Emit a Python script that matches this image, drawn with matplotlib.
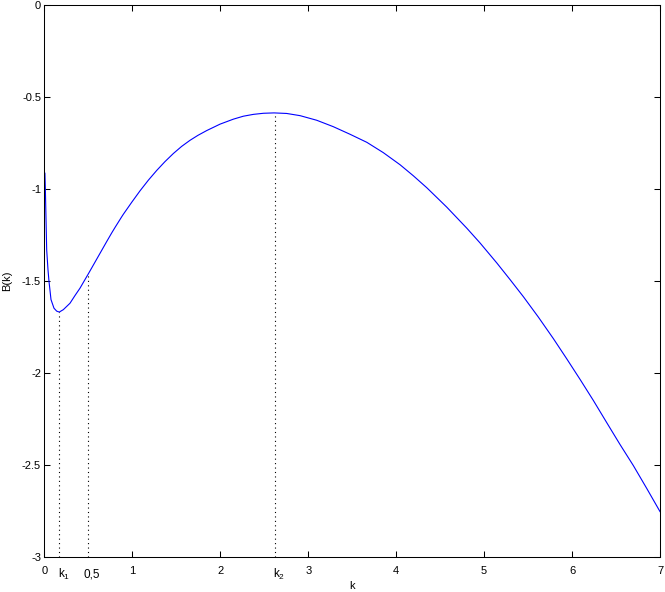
import matplotlib
matplotlib.use("Agg")
import matplotlib.pyplot as plt
import matplotlib.transforms as mtransforms

plt.rcParams['font.family'] = ['Liberation Sans', 'DejaVu Sans']
plt.rcParams['axes.unicode_minus'] = False

# B(k)
k_vals = [0.005, 0.01, 0.025, 0.040, 0.051, 0.074, 0.108, 0.139, 0.168, 0.214,
          0.29, 0.347, 0.404, 0.45, 0.5, 0.537, 0.60, 0.65, 0.707, 0.764,
          0.802, 0.878, 0.897, 0.992, 1.086, 1.181, 1.276, 1.370, 1.465, 1.560,
          1.655, 1.745, 1.845, 1.997, 2.148, 2.261, 2.375, 2.49, 2.611, 2.754,
          2.907, 3.096, 3.285, 3.474, 3.666, 3.853, 4.044, 4.195, 4.348, 4.574,
          4.803, 4.953, 5.144, 5.294, 5.447, 5.616, 5.788, 5.939, 6.092, 6.241,
          6.395, 6.545, 6.697, 6.849, 7.0]
b_vals = [-0.913, -1.0, -1.33, -1.439, -1.50, -1.60, -1.647, -1.663, -1.668, -1.655,
          -1.62, -1.578, -1.538, -1.500, -1.459, -1.428, -1.375, -1.333, -1.285, -1.238,
          -1.208, -1.150, -1.136, -1.071, -1.009, -0.951, -0.898, -0.850, -0.806, -0.767,
          -0.734, -0.707, -0.681, -0.646, -0.619, -0.603, -0.593, -0.587, -0.585, -0.588,
          -0.600, -0.625, -0.660, -0.701, -0.745, -0.801, -0.867, -0.927, -0.992, -1.097,
          -1.212, -1.292, -1.401, -1.491, -1.585, -1.695, -1.813, -1.922, -2.035, -2.148,
          -2.270, -2.388, -2.503, -2.627, -2.753]

# marked points (dotted drop lines)
mark_k = [0.168, 0.5, 2.62]
mark_b = [-1.668, -1.459, -0.585]
mark_labels = [r'$\mathregular{k_1}$', '0,5', r'$\mathregular{k_2}$']
mark_label_x = [0.154, 0.449, 2.60]

x_ticks = [0, 1, 2, 3, 4, 5, 6, 7]
y_ticks = [0, -0.5, -1, -1.5, -2, -2.5, -3]
y_ticklabels = ['0', '-0.5', '-1', '-1.5', '-2', '-2.5', '-3']

fig = plt.figure(figsize=(6.65, 5.92), dpi=100)
ax = fig.add_axes([0.0669, 0.0591, 0.9256, 0.9319])

ax.plot(k_vals, b_vals, color='#0000ff', lw=0.8)
for xk, yb in zip(mark_k, mark_b):
    ax.plot([xk, xk], [-3, yb], color='black', lw=0.8, linestyle=(0, (1, 3)))

ax.set_xlim(0, 7)
ax.set_ylim(-3, 0)
ax.set_xticks(x_ticks)
ax.set_yticks(y_ticks)
ax.set_yticklabels(y_ticklabels)
ax.tick_params(direction='in', length=4.3, width=0.75, top=True, right=True,
               labelsize=8)
ax.tick_params(axis='x', pad=6.5)
ax.tick_params(axis='y', pad=2.5)
for s in ax.spines.values():
    s.set_linewidth(0.75)

trans = mtransforms.blended_transform_factory(ax.transData, ax.transAxes)
for lx, lab in zip(mark_label_x, mark_labels):
    ax.text(lx, -0.031, lab, transform=trans, ha='left', va='center', fontsize=8.5)

ax.set_xlabel('k', fontsize=8)
ax.set_ylabel('B(k)', fontsize=8)
ax.xaxis.set_label_coords(0.5, -0.043)
ax.yaxis.set_label_coords(-0.053, 0.5)

fig.savefig('out.png', dpi=100)
